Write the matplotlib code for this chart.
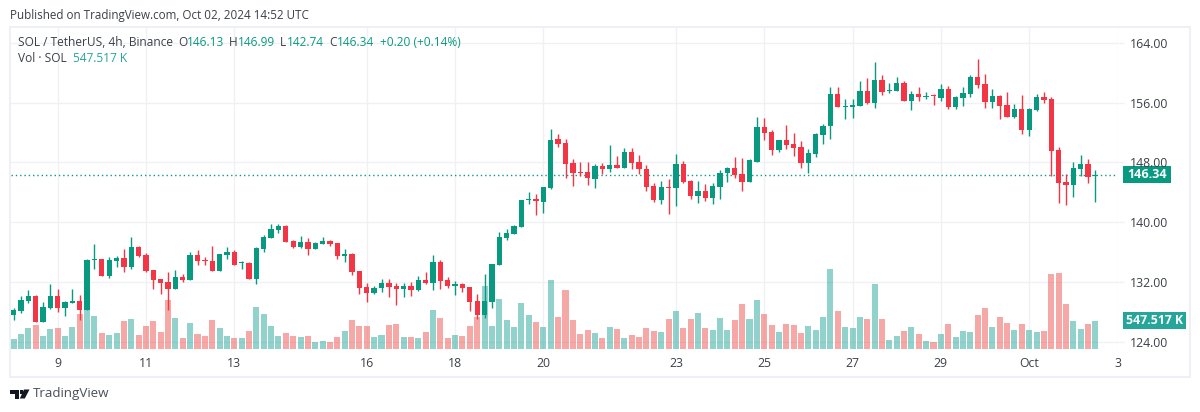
import matplotlib
matplotlib.use("Agg")
import matplotlib.pyplot as plt
from matplotlib.patches import Rectangle, Polygon
import numpy as np

opens = [127.51,128.13,129.38,130.10,126.61,128.49,130.10,128.49,129.16,129.43,
         128.22,134.92,135.05,132.78,134.79,135.19,133.98,136.66,135.59,133.58,
         132.37,131.97,131.04,132.64,132.24,135.59,134.92,134.79,133.45,135.59,
         135.99,134.47,134.52,132.37,136.39,137.87,138.94,139.52,137.47,136.66,
         137.33,136.39,137.06,137.47,137.20,135.46,135.72,133.45,131.30,130.50,
         131.17,131.84,131.44,131.04,131.44,130.90,132.24,131.84,134.65,132.24,
         131.44,131.70,131.30,129.43,127.55,129.29,134.25,137.87,138.40,139.34,
         142.96,143.10,142.69,144.57,151.13,150.60,147.92,146.71,146.71,145.77,
         147.52,147.11,147.65,147.25,149.39,148.05,147.11,144.84,142.96,144.70,
         144.57,147.78,145.51,143.50,144.17,143.23,144.70,146.58,147.25,146.44,
         145.37,148.05,152.74,152.07,149.66,151.00,150.47,150.06,147.92,149.13,
         151.67,152.88,157.16,155.42,155.42,155.56,157.57,155.96,159.04,157.57,
         157.57,158.64,156.23,157.16,156.76,157.03,156.63,157.83,155.42,156.63,
         157.16,159.44,158.50,156.09,156.90,155.69,154.08,155.15,152.34,155.02,
         156.76,156.49,149.66,145.37,144.97,147.12,147.79,146.13]
closes = [128.22,129.56,130.10,126.61,128.62,130.10,128.49,129.29,129.43,128.22,
          134.92,135.05,132.78,134.92,135.19,133.98,136.66,135.46,133.45,132.24,
          131.84,131.04,132.64,132.24,135.59,134.79,134.79,133.45,135.72,135.99,
          134.25,134.61,132.37,136.53,138.00,139.07,139.48,137.33,136.66,137.33,
          136.39,137.20,137.47,137.06,135.46,135.72,133.31,131.17,130.50,131.17,
          131.84,131.30,131.04,131.44,130.90,132.24,131.84,134.65,132.11,131.44,
          131.70,131.17,129.29,127.55,129.43,134.38,138.00,138.54,139.48,142.96,
          143.10,142.83,144.70,151.00,150.46,147.78,146.58,146.58,145.91,147.52,
          147.11,147.65,147.25,149.39,147.92,147.11,144.70,142.96,144.70,144.57,
          147.78,145.37,143.50,144.17,143.23,144.84,146.58,147.25,146.31,145.37,
          148.32,152.74,151.94,149.66,151.00,150.33,149.93,147.92,149.26,151.80,
          152.88,157.16,155.42,155.56,155.69,157.57,155.96,159.04,157.43,157.70,
          158.64,156.23,157.16,156.76,156.90,156.90,157.83,155.42,156.76,157.30,
          159.44,158.37,156.09,156.90,155.56,154.08,155.15,152.34,155.15,156.76,
          156.36,149.53,145.24,144.97,147.25,147.79,146.04,146.34]
highs = [128.44,130.10,130.90,130.19,129.29,131.70,131.04,129.43,131.04,130.23,
         135.05,137.06,135.10,135.32,135.46,136.39,138.00,136.80,135.86,133.58,
         132.37,133.31,133.58,133.04,135.99,136.26,135.32,136.80,135.72,136.66,
         136.26,134.79,134.65,136.66,138.27,139.74,139.74,139.61,137.60,138.14,
         137.87,137.33,138.00,137.60,137.20,136.39,135.86,133.45,131.84,131.44,
         132.37,132.37,131.84,131.84,131.97,132.78,133.31,135.59,134.92,132.64,
         132.11,131.84,131.30,130.36,133.04,134.38,138.67,139.07,139.61,143.00,
         144.03,143.76,144.70,152.47,151.80,151.13,148.45,148.05,148.05,147.78,
         147.92,150.33,148.86,149.93,149.93,148.99,147.65,145.24,145.51,145.77,
         149.12,148.19,145.64,145.51,145.10,145.24,146.98,147.38,148.72,148.59,
         148.45,154.08,153.95,152.34,151.00,153.01,151.94,150.87,149.80,151.94,
         153.14,158.10,158.10,156.49,156.49,158.91,159.31,161.45,159.71,158.64,
         159.44,158.91,157.57,158.10,157.43,157.16,158.50,158.24,156.90,158.10,
         159.71,161.85,159.84,157.83,157.03,157.43,155.82,157.03,155.29,157.16,
         157.43,156.76,150.06,146.45,148.05,148.99,148.46,146.99]
lows = [126.88,127.86,129.16,126.61,126.61,128.36,127.95,127.42,129.16,126.88,
        128.22,133.71,132.78,132.51,133.98,133.31,133.71,135.32,133.31,131.04,
        130.36,128.22,131.04,131.97,132.24,134.25,134.25,133.45,133.45,135.05,
        134.25,133.71,132.37,131.70,135.99,137.87,138.54,137.33,136.53,136.53,
        135.59,136.39,137.06,136.80,135.05,134.65,132.91,130.36,129.29,130.36,
        130.63,129.96,128.89,129.96,130.10,130.77,131.70,130.90,131.04,131.17,
        130.23,130.63,128.09,127.02,127.15,128.49,134.25,137.60,138.40,139.34,
        142.43,140.95,141.22,144.44,150.06,145.91,144.84,146.18,144.97,144.57,
        146.44,146.71,147.25,147.25,147.11,146.44,144.17,142.69,142.43,141.09,
        142.16,145.24,143.10,142.56,142.83,142.43,143.10,145.37,145.91,144.17,
        145.37,148.05,151.00,148.99,149.39,149.80,148.86,147.25,146.58,148.72,
        150.47,151.14,155.42,153.81,153.95,155.56,155.82,155.29,157.03,157.30,
        157.57,156.23,155.02,156.23,156.49,155.69,156.23,155.15,155.15,155.56,
        156.76,157.97,155.29,155.29,153.81,154.08,153.95,151.80,151.54,154.89,
        155.96,146.18,142.56,142.29,143.36,146.18,145.24,142.74]
# volume in thousands of SOL
volumes = [196,293,411,469,254,391,411,254,430,684,
           1212,645,313,274,313,548,587,274,450,548,
           332,958,606,215,508,293,254,567,411,254,
           215,215,352,821,684,450,254,313,254,235,
           254,137,156,137,235,352,567,450,450,235,
           274,469,489,235,235,215,332,763,606,215,
           274,254,450,626,1232,450,978,567,430,899,
           665,528,430,1349,626,1154,567,293,372,313,
           215,430,391,215,274,235,411,352,332,587,
           743,411,587,704,411,372,606,372,567,880,
           587,958,684,469,332,489,469,313,450,372,
           626,1564,743,430,411,626,587,1271,587,176,
           254,352,430,293,156,137,293,489,235,352,
           332,665,802,430,626,508,372,489,372,332,
           352,1467,1486,880,548,391,489,547.517]

price_ticks = [124, 132, 140, 148, 156, 164]
date_ticks = [6, 18, 30, 48, 60, 72, 90, 102, 114, 126, 138, 150]
date_labels = ["9", "11", "13", "16", "18", "20", "23", "25", "27", "29", "Oct", "3"]

GREEN = "#089981"
RED = "#f23645"
VOL_GREEN = "#26a69a"
VOL_RED = "#ef5350"
GRID = "#f0f1f4"
TEXT = "#3c4048"
W, H = 1200, 412

plt.rcParams["font.family"] = ["Open Sans", "DejaVu Sans"]
fig = plt.figure(figsize=(W / 100, H / 100), dpi=100, facecolor="white")


def fx(px):
    return px / W


def fy(py):
    return 1 - py / H


def label(px, py, s, color=TEXT, size=8.6, **kw):
    fig.text(fx(px), fy(py), s, color=color, fontsize=size, va="center", ha="left", **kw)


# volume pane sits under the candles
left, right, top, bottom = 11, 1117.5, 28, 349
rect = [fx(left), fy(bottom), fx(right - left), (bottom - top) / H]
ax_vol = fig.add_axes(rect, zorder=1)
ax = fig.add_axes(rect, zorder=2)
ax.patch.set_alpha(0)

o = np.array(opens)
c = np.array(closes)
h = np.array(highs)
l = np.array(lows)
idx = np.arange(len(o))
up = c >= o

ax_vol.set_xlim(-0.34, 150)
ax_vol.set_ylim(0, 6276)
ax_vol.bar(idx, volumes, 0.82, color=[VOL_GREEN if u else VOL_RED for u in up], alpha=0.5, linewidth=0)
ax_vol.set_xticks(date_ticks)
ax_vol.set_xticklabels([])
ax_vol.set_yticks([])
ax_vol.tick_params(length=0)
for pos in ax_vol.spines.values():
    pos.set_visible(False)
ax_vol.set_axisbelow(True)
ax_vol.grid(axis="x", color=GRID, lw=1.0)
for p in price_ticks:
    ax_vol.axhline((p - 123.0) / (166.01 - 123.0) * 6276, color=GRID, lw=1.0, zorder=0)

colors = [GREEN if u else RED for u in up]
ax.set_xlim(-0.34, 150)
ax.set_ylim(123.0, 166.01)
ax.axhline(closes[-1], color=GREEN, lw=1.0, ls=(0, (1, 2.1)), zorder=2)
ax.vlines(idx, l, h, colors=colors, lw=1.0, zorder=3)
ax.bar(idx, np.maximum(np.abs(c - o), 0.12), 0.72, bottom=np.minimum(o, c), color=colors, linewidth=0, zorder=4)

ax.yaxis.tick_right()
ax.set_yticks(price_ticks)
ax.set_yticklabels(["%.2f" % p for p in price_ticks], fontsize=8.8, color=TEXT, va="center_baseline")
ax.set_xticks(date_ticks)
ax.set_xticklabels(date_labels, fontsize=8.8, color=TEXT)
ax.tick_params(axis="y", length=4.2, width=1.0, color=GRID, pad=5)
ax.tick_params(axis="x", length=0, pad=5.8)
for pos in ax.spines.values():
    pos.set_visible(False)

# outer frame of the published snapshot
fig.add_artist(Rectangle((fx(10), fy(376.5)), fx(1180), 349.5 / H, transform=fig.transFigure,
                         fill=False, ec="#eff0f5", lw=1.5))

# last price / volume tags on the scale
price_y = ax.transData.transform((0, closes[-1]))[1] / H
vol_y = ax_vol.transData.transform((0, volumes[-1]))[1] / H
fig.add_artist(Rectangle((fx(1123), price_y - 8.5 / H), fx(48), 17 / H, transform=fig.transFigure,
                         fc=GREEN, ec="none"))
fig.add_artist(Rectangle((fx(1123), vol_y - 8.5 / H), fx(63), 17 / H, transform=fig.transFigure,
                         fc=VOL_GREEN, ec="none"))
fig.text(fx(1147), price_y, "146.34", color="white", fontsize=9, fontweight="bold", ha="center", va="center")
fig.text(fx(1154.5), vol_y, "547.517 K", color="white", fontsize=8.8, fontweight="bold", ha="center", va="center")

# header and legend
label(10, 15, "Published on TradingView.com, Oct 02, 2024 14:52 UTC", size=8.4)
label(18, 42, "SOL / TetherUS, 4h, Binance")
for px, s in [(178, "O"), (229, "H"), (280, "L"), (329, "C")]:
    label(px, 42, s)
for px, s in [(187, "146.13"), (238, "146.99"), (287, "142.74"), (337, "146.34"), (380, "+0.20 (+0.14%)")]:
    label(px, 42, s, color=GREEN)
label(18, 59, "Vol · SOL")
label(73, 59, "547.517 K", color=VOL_GREEN)

# TradingView mark
logo = "#131722"
fig.add_artist(Polygon([(fx(10), fy(389.5)), (fx(19.3), fy(389.5)), (fx(19.3), fy(398.5)), (fx(14.7), fy(398.5)),
                        (fx(14.7), fy(394)), (fx(10), fy(394))], closed=True, transform=fig.transFigure, fc=logo, ec="none"))
fig.add_artist(Polygon([(fx(24), fy(389.5)), (fx(29.5), fy(389.5)), (fx(24.8), fy(398.5)), (fx(19.8), fy(398.5))],
                       closed=True, transform=fig.transFigure, fc=logo, ec="none"))
fig.add_artist(Rectangle((fx(20.2), fy(393.5)), fx(3.2), 3.6 / H, transform=fig.transFigure, fc=logo, ec="none"))
label(33, 394, "TradingView", size=9.6, color="#4a4e57")

fig.savefig("out.png", dpi=100, facecolor="white")
